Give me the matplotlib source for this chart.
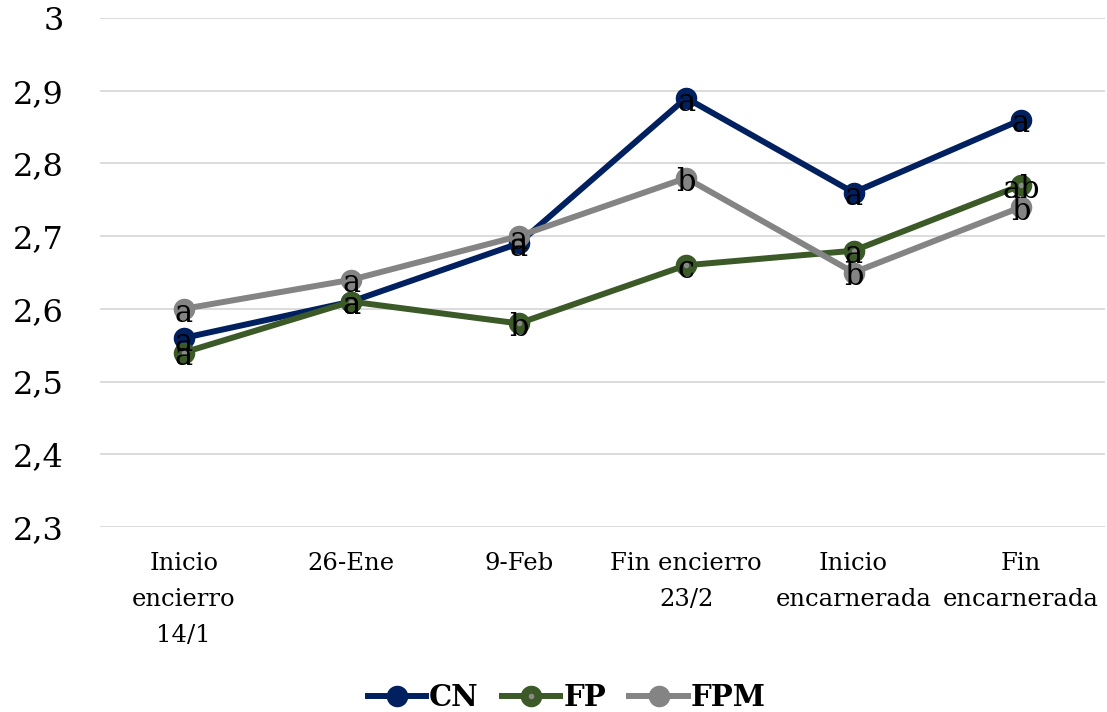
import matplotlib.pyplot as plt
import numpy as np
from matplotlib.legend_handler import HandlerTuple

# data
categorias = ['Inicio\nencierro\n14/1', '26-Ene', '9-Feb', 'Fin encierro\n23/2',
              'Inicio\nencarnerada', 'Fin\nencarnerada']
cn = [2.56, 2.61, 2.69, 2.89, 2.76, 2.86]
fp = [2.54, 2.61, 2.58, 2.66, 2.68, 2.77]
fpm = [2.60, 2.64, 2.70, 2.78, 2.65, 2.74]
letras_cn = ['a', 'a', 'a', 'a', 'a', 'a']
letras_fp = ['a', 'a', 'b', 'c', 'a', 'ab']
letras_fpm = ['a', 'a', 'a', 'b', 'b', 'b']
y_ticks = [2.3, 2.4, 2.5, 2.6, 2.7, 2.8, 2.9, 3.0]

plt.rcParams['font.family'] = ['DejaVu Serif']

fig = plt.figure(figsize=(11.07, 7.12), dpi=100)
ax = fig.add_axes([0.0903, 0.2598, 0.9077, 0.7149])
x = np.arange(len(categorias))

c_cn, c_fp, c_fpm = '#002060', '#3b5a27', '#848484'
l1, = ax.plot(x, cn, color=c_cn, lw=4.3, marker='o', ms=14.5, zorder=3)
l2, = ax.plot(x, fp, color=c_fp, lw=4.3, marker='o', ms=14.5, zorder=4)
d2, = ax.plot(x, fp, color='#8a8a8a', lw=0, marker='o', ms=3, zorder=4.5)
l3, = ax.plot(x, fpm, color=c_fpm, lw=4.3, marker='o', ms=14.5, zorder=5)

# letras de significancia sobre cada punto
for serie, letras in [(cn, letras_cn), (fp, letras_fp), (fpm, letras_fpm)]:
    for xi, yi, t in zip(x, serie, letras):
        ax.annotate(t, (xi, yi), xytext=(0, -3), textcoords='offset points',
                    ha='center', va='center', fontsize=22, color='black', zorder=6)

ax.set_xlim(-0.5, len(categorias) - 0.5)
ax.set_ylim(2.3, 3.0)
ax.set_yticks(y_ticks)
ax.set_yticklabels([('%g' % v).replace('.', ',') for v in y_ticks], fontsize=23)
ax.set_xticks(x)
ax.set_xticklabels(categorias, fontsize=17.5, linespacing=1.72)
ax.tick_params(axis='y', length=0, pad=26)
ax.tick_params(axis='x', length=0, pad=18)
for s in ax.spines.values():
    s.set_visible(False)
ax.grid(axis='y', color='#d9d9d9', lw=1.3)
ax.set_axisbelow(True)

fig.legend([l1, (l2, d2), l3], ['CN', 'FP', 'FPM'], loc='center', bbox_to_anchor=(0.512, 0.02),
           ncol=3, frameon=False, prop={'weight': 'bold', 'size': 21}, handlelength=2.0,
           handletextpad=0.1, columnspacing=0.8, handler_map={tuple: HandlerTuple(ndivide=1)})

fig.savefig('out.png', dpi=100)
